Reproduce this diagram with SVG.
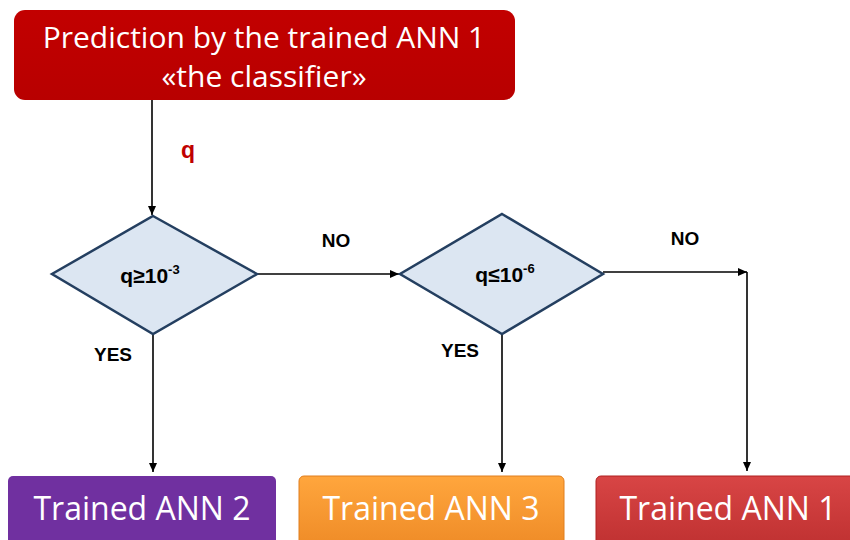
<svg xmlns="http://www.w3.org/2000/svg" width="850" height="540" viewBox="0 0 850 540">
<style>
.t{font-family:"Open Sans","Liberation Sans",sans-serif;fill:#fff}
.lbl{font-family:"Liberation Sans",Arial,sans-serif;font-weight:bold;font-size:19px;fill:#000}
.dia{fill:#DCE6F2;stroke:#243F60;stroke-width:2.5}
.dt{font-family:"Liberation Sans",Arial,sans-serif;font-weight:bold;font-size:21px;fill:#000}
.c{stroke:#000;stroke-width:1.6;fill:none}
</style>
<defs>
<marker id="ah" markerWidth="10" markerHeight="10" refX="9" refY="5" orient="auto" markerUnits="userSpaceOnUse">
<path d="M0,1 L9,5 L0,9 Z" fill="#000"/>
</marker>
<linearGradient id="gRed" x1="0" y1="0" x2="0" y2="1"><stop offset="0" stop-color="#C20000"/><stop offset="1" stop-color="#B80000"/></linearGradient>
<linearGradient id="gOr" x1="0" y1="0" x2="0" y2="1"><stop offset="0" stop-color="#FFA63D"/><stop offset="1" stop-color="#EE8A26"/></linearGradient>
<linearGradient id="gR2" x1="0" y1="0" x2="0" y2="1"><stop offset="0" stop-color="#D84545"/><stop offset="1" stop-color="#BE3030"/></linearGradient>
</defs>
<rect width="850" height="540" fill="#fff"/>
<g id="connectors">
<line class="c" x1="152" y1="100" x2="152" y2="215" marker-end="url(#ah)"/>
<line class="c" x1="257" y1="274" x2="399" y2="274" marker-end="url(#ah)"/>
<line class="c" x1="603" y1="272" x2="747" y2="272" marker-end="url(#ah)"/>
<line class="c" x1="747" y1="272" x2="747" y2="471" marker-end="url(#ah)"/>
<line class="c" x1="153" y1="334" x2="153" y2="472" marker-end="url(#ah)"/>
<line class="c" x1="502" y1="334" x2="502" y2="472" marker-end="url(#ah)"/>
<text x="188" y="158" class="lbl" style="fill:#C00000;font-size:23px" text-anchor="middle">q</text>
<text x="336" y="247" class="lbl" text-anchor="middle">NO</text>
<text x="685" y="245" class="lbl" text-anchor="middle">NO</text>
<text x="113" y="361" class="lbl" text-anchor="middle">YES</text>
<text x="460" y="357" class="lbl" text-anchor="middle">YES</text>
</g>
<g id="top">
<rect x="14" y="10" width="501" height="90" rx="11" fill="url(#gRed)"/>
<text class="t" x="264" y="48" font-size="30" text-anchor="middle">Prediction by the trained ANN 1</text>
<text class="t" x="264" y="87" font-size="30" text-anchor="middle">«the classifier»</text>
</g>
<g id="d1">
<polygon class="dia" points="153,216 257,274 153,334 52,274"/>
<text class="dt" x="150" y="283" text-anchor="middle">q≥10<tspan dy="-9" font-size="13">-3</tspan></text>
</g>
<g id="d2">
<polygon class="dia" points="502,214 603,274 502,334 400,274"/>
<text class="dt" x="505" y="282" text-anchor="middle">q≤10<tspan dy="-9" font-size="13">-6</tspan></text>
</g>
<g id="b1">
<rect x="8" y="476" width="268" height="74" rx="5" fill="#7030A0"/>
<text class="t" x="142" y="520" font-size="32" text-anchor="middle">Trained ANN 2</text>
</g>
<g id="b2">
<rect x="299" y="476" width="265" height="74" rx="5" fill="url(#gOr)" stroke="#E07E1E" stroke-width="1"/>
<text class="t" x="431" y="520" font-size="32" text-anchor="middle">Trained ANN 3</text>
</g>
<g id="b3">
<rect x="596" y="476" width="264" height="74" rx="5" fill="url(#gR2)" stroke="#B02020" stroke-width="1"/>
<text class="t" x="728" y="520" font-size="32" text-anchor="middle">Trained ANN 1</text>
</g>
</svg>
